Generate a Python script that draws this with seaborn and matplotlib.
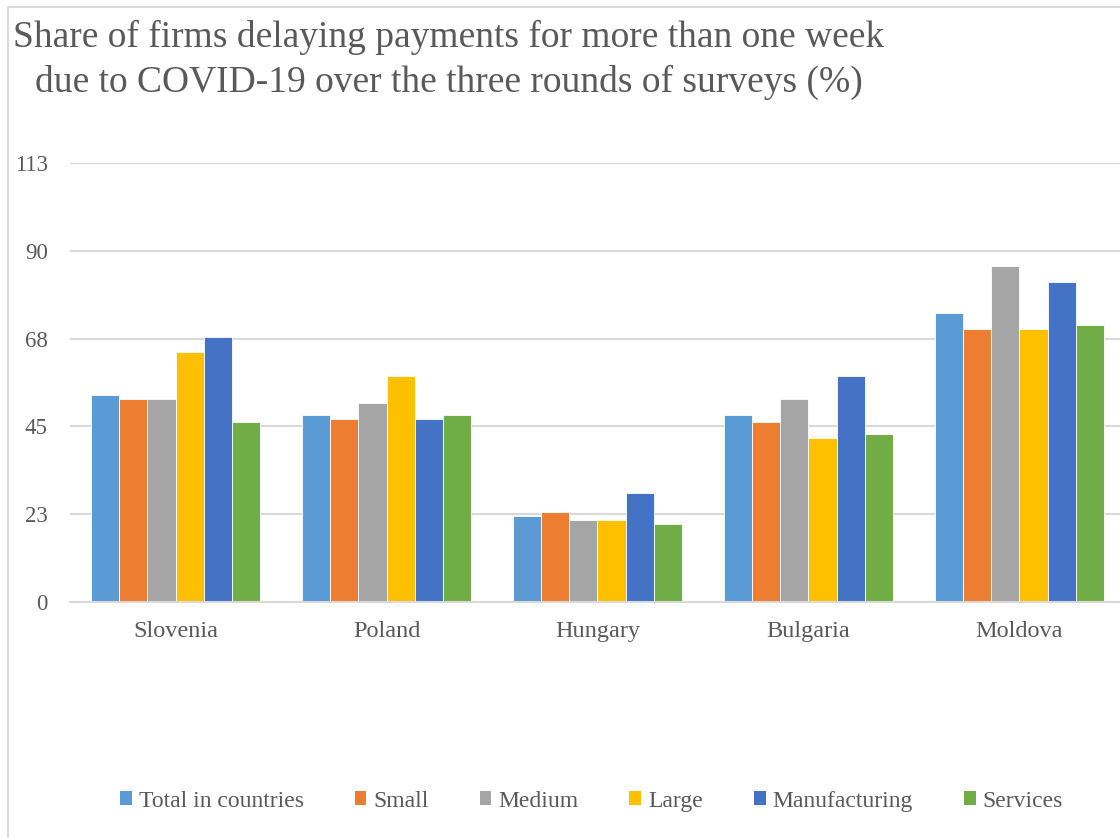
import matplotlib
matplotlib.use("Agg")
import matplotlib.pyplot as plt
from matplotlib.patches import Rectangle
import seaborn as sns
import pandas as pd

countries = ["Slovenia", "Poland", "Hungary", "Bulgaria", "Moldova"]
groups = ["Total in countries", "Small", "Medium", "Large", "Manufacturing", "Services"]
total_in_countries = [53, 48, 22, 48, 74]
small = [52, 47, 23, 46, 70]
medium = [52, 51, 21, 52, 86]
large = [64, 58, 21, 42, 70]
manufacturing = [68, 47, 28, 58, 82]
services = [46, 48, 20, 43, 71]
y_ticks = [0, 22.5, 45, 67.5, 90, 112.5]
y_tick_labels = ["0", "23", "45", "68", "90", "113"]
colors = ["#5B9BD5", "#ED7D31", "#A5A5A5", "#FFC000", "#4472C4", "#70AD47"]

series = [total_in_countries, small, medium, large, manufacturing, services]
df = pd.DataFrame(
    [(c, g, v) for g, vals in zip(groups, series) for c, v in zip(countries, vals)],
    columns=["country", "group", "value"],
)

sns.set_theme(style="white")
plt.rcParams["font.family"] = ["Liberation Serif", "DejaVu Serif"]
text_color = "#595959"
grid_color = "#D9D9D9"

fig = plt.figure(figsize=(11.2, 8.38), dpi=100)
fig.patch.set_facecolor("white")

# chart frame
fig.add_artist(Rectangle((8 / 1120, -0.1), 1.2, 1 - 7 / 838 + 0.1,
                         transform=fig.transFigure, fill=False,
                         edgecolor=grid_color, linewidth=1.3))

ax = fig.add_axes([70 / 1120, 1 - 602 / 838, 1055 / 1120, (602 - 163) / 838])
sns.barplot(data=df, x="country", y="value", hue="group", order=countries,
            hue_order=groups, palette=colors, saturation=1, width=0.8,
            edgecolor="white", linewidth=0.6, ax=ax, legend=False)

ax.set_ylim(0, 112.5)
ax.set_yticks(y_ticks)
ax.set_yticklabels(y_tick_labels)
ax.set_xlabel("")
ax.set_ylabel("")
ax.yaxis.grid(True, color=grid_color, linewidth=1.5)
ax.set_axisbelow(True)
for s in ["top", "right", "left"]:
    ax.spines[s].set_visible(False)
ax.spines["bottom"].set_color(grid_color)
ax.spines["bottom"].set_linewidth(1.5)
ax.tick_params(axis="y", length=0, pad=16, labelsize=16.5, labelcolor=text_color)
ax.tick_params(axis="x", length=0, pad=14, labelsize=17.5, labelcolor=text_color)

fig.text(449 / 1120, 1 - 60 / 838,
         "Share of firms delaying payments for more than one week\n"
         "due to COVID-19 over the three rounds of surveys (%)",
         ha="center", va="center", fontsize=27, color=text_color,
         linespacing=1.36)

handles = [Rectangle((0, 0), 1, 1, facecolor=c, edgecolor="none") for c in colors]
fig.legend(handles, groups, loc="center", bbox_to_anchor=(591.5 / 1120, 1 - 801 / 838),
           ncol=6, frameon=False, fontsize=17, handlelength=0.5, handleheight=0.5,
           handletextpad=0.3, columnspacing=2.15, labelcolor=text_color)

fig.savefig("out.png", dpi=100, facecolor="white")
